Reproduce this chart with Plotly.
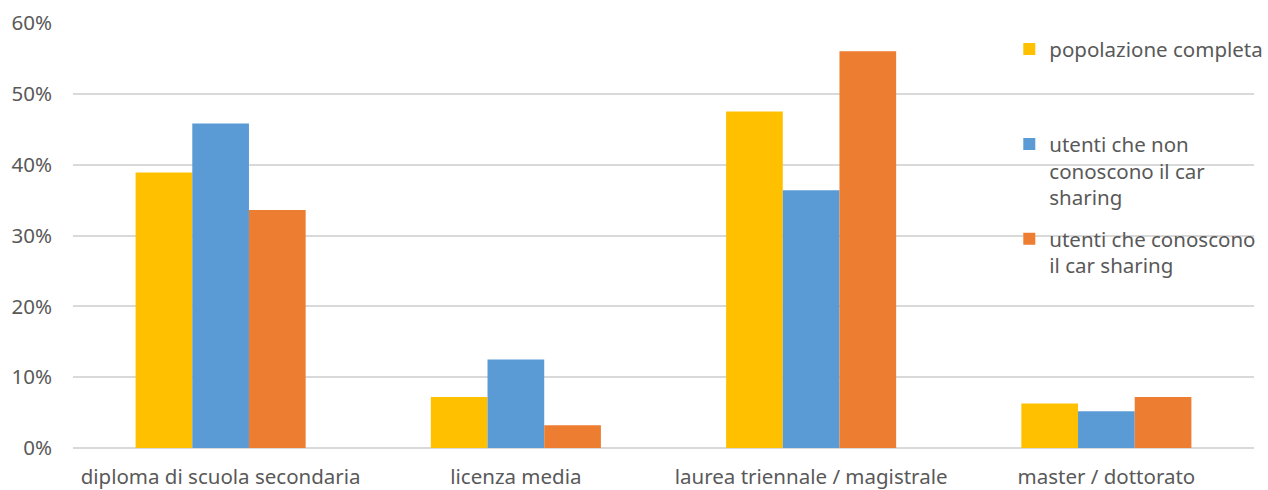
import plotly.graph_objects as go

categories = ["diploma di scuola secondaria", "licenza media",
              "laurea triennale / magistrale", "master / dottorato"]

popolazione_completa = [0.389, 0.072, 0.475, 0.063]
non_conoscono = [0.458, 0.125, 0.364, 0.052]
conoscono = [0.336, 0.032, 0.560, 0.072]

series_names = [
    "popolazione completa<br> <br> ",
    "utenti che non<br>conoscono il car<br>sharing",
    "utenti che conoscono<br>il car sharing",
]
series_values = [popolazione_completa, non_conoscono, conoscono]
series_colors = ["#FFC000", "#5B9BD5", "#ED7D31"]

y_ticks = [0, 0.1, 0.2, 0.3, 0.4, 0.5, 0.6]
y_tick_labels = ["0%", "10%", "20%", "30%", "40%", "50%", "60%"]

FONT = "Noto Sans"
SIZE = 20.5
GREY = "#595959"

fig = go.Figure()
for name, vals, color in zip(series_names, series_values, series_colors):
    fig.add_trace(go.Bar(
        x=categories, y=vals, name=name,
        marker=dict(color=color, line=dict(width=0)),
        legendgroup=name,
    ))

fig.update_layout(
    width=1268, height=490,
    margin=dict(l=73, r=14, t=23, b=42, autoexpand=False),
    paper_bgcolor="white", plot_bgcolor="white",
    barmode="group", bargap=0.424, bargroupgap=0,
    font=dict(family=FONT, size=SIZE, color=GREY),
    showlegend=True,
    legend=dict(
        x=0.7928, xanchor="left", y=0.9856, yanchor="top",
        bgcolor="rgba(0,0,0,0)", borderwidth=0,
        font=dict(family=FONT, size=SIZE, color=GREY),
        valign="top", tracegroupgap=12,
    ),
)
fig.update_xaxes(
    showgrid=False, showline=False, ticks="", automargin=False,
    ticklabelstandoff=14,
    tickfont=dict(family=FONT, size=SIZE, color=GREY),
)
fig.update_yaxes(
    range=[0, 0.6], tickvals=y_ticks, ticktext=y_tick_labels,
    showgrid=True, gridcolor="#D9D9D9", gridwidth=1.5,
    zeroline=True, zerolinecolor="#D9D9D9", zerolinewidth=1.5,
    showline=False, ticks="", automargin=False,
    ticklabelstandoff=20,
    tickfont=dict(family=FONT, size=SIZE, color=GREY),
)

fig.write_html("out.html")
